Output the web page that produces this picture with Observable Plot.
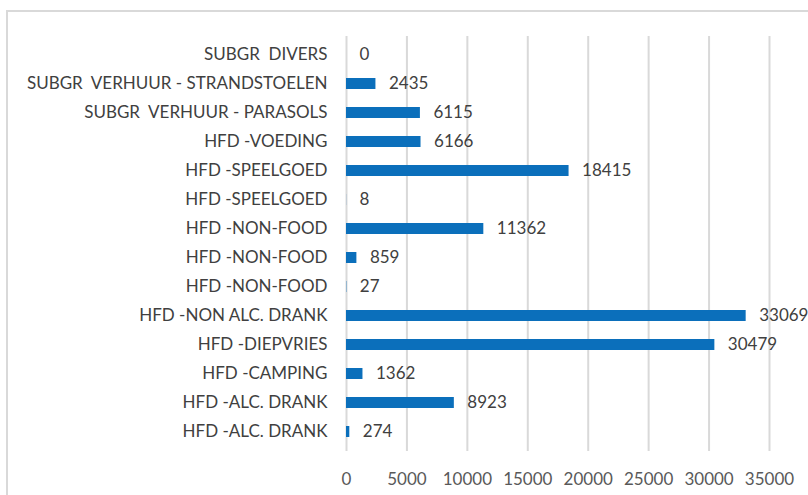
<!DOCTYPE html>
<html>
<head>
<meta charset="utf-8">
<script src="https://cdn.jsdelivr.net/npm/d3@7"></script>
<script src="https://cdn.jsdelivr.net/npm/@observablehq/plot@0.6"></script>
<style>
  html, body { margin: 0; padding: 0; background: #fff; overflow: hidden; width: 808px; height: 495px; }
  #wrap { position: relative; width: 808px; height: 495px; }
  #border { position: absolute; left: 6px; top: 10px; width: 900px; height: 600px; border: 2px solid #d9d9d9; box-sizing: border-box; }
  #chart { position: absolute; left: 0; top: 0; }
  #chart svg text { white-space: pre; }
</style>
</head>
<body>
<div id="wrap">
  <div id="border"></div>
  <div id="chart"></div>
</div>
<script>
const categories = [
  "SUBGR  DIVERS",
  "SUBGR  VERHUUR - STRANDSTOELEN",
  "SUBGR  VERHUUR - PARASOLS",
  "HFD -VOEDING",
  "HFD -SPEELGOED",
  "HFD -SPEELGOED",
  "HFD -NON-FOOD",
  "HFD -NON-FOOD",
  "HFD -NON-FOOD",
  "HFD -NON ALC. DRANK",
  "HFD -DIEPVRIES",
  "HFD -CAMPING",
  "HFD -ALC. DRANK",
  "HFD -ALC. DRANK"
];
const values = [0, 2435, 6115, 6166, 18415, 8, 11362, 859, 27, 33069, 30479, 1362, 8923, 274];
const xTicks = [0, 5000, 10000, 15000, 20000, 25000, 30000, 35000];

const data = categories.map((c, i) => ({ idx: i, cat: c, value: values[i] }));

const chart = Plot.plot({
  width: 808,
  height: 495,
  marginTop: 36,
  marginBottom: 44,
  marginLeft: 346,
  marginRight: 39,
  style: { fontFamily: "Lato, 'Open Sans', sans-serif", fontSize: "17px", color: "#404040", background: "transparent" },
  x: { domain: [0, 35000], ticks: xTicks, label: null },
  y: { domain: d3.range(categories.length), paddingInner: 0.62, paddingOuter: 0.31, label: null },
  marks: [
    Plot.gridX(xTicks, { stroke: "#d9d9d9", strokeOpacity: 1, strokeWidth: 2 }),
    Plot.axisX({ ticks: xTicks, tickSize: 0, tickPadding: 21, fontSize: 17, color: "#595959", label: null, tickFormat: d => String(d) }),
    Plot.axisY({ tickSize: 0, tickPadding: 19, fontSize: 17, color: "#404040", label: null, tickFormat: i => categories[i] }),
    Plot.barX(data, { x: "value", y: "idx", fill: "#0b6fbb" }),
    Plot.text(data, { x: "value", y: "idx", text: d => String(d.value), textAnchor: "start", dx: 13, fontSize: 17, fill: "#404040" })
  ]
});
document.getElementById("chart").appendChild(chart);
</script>
</body>
</html>
